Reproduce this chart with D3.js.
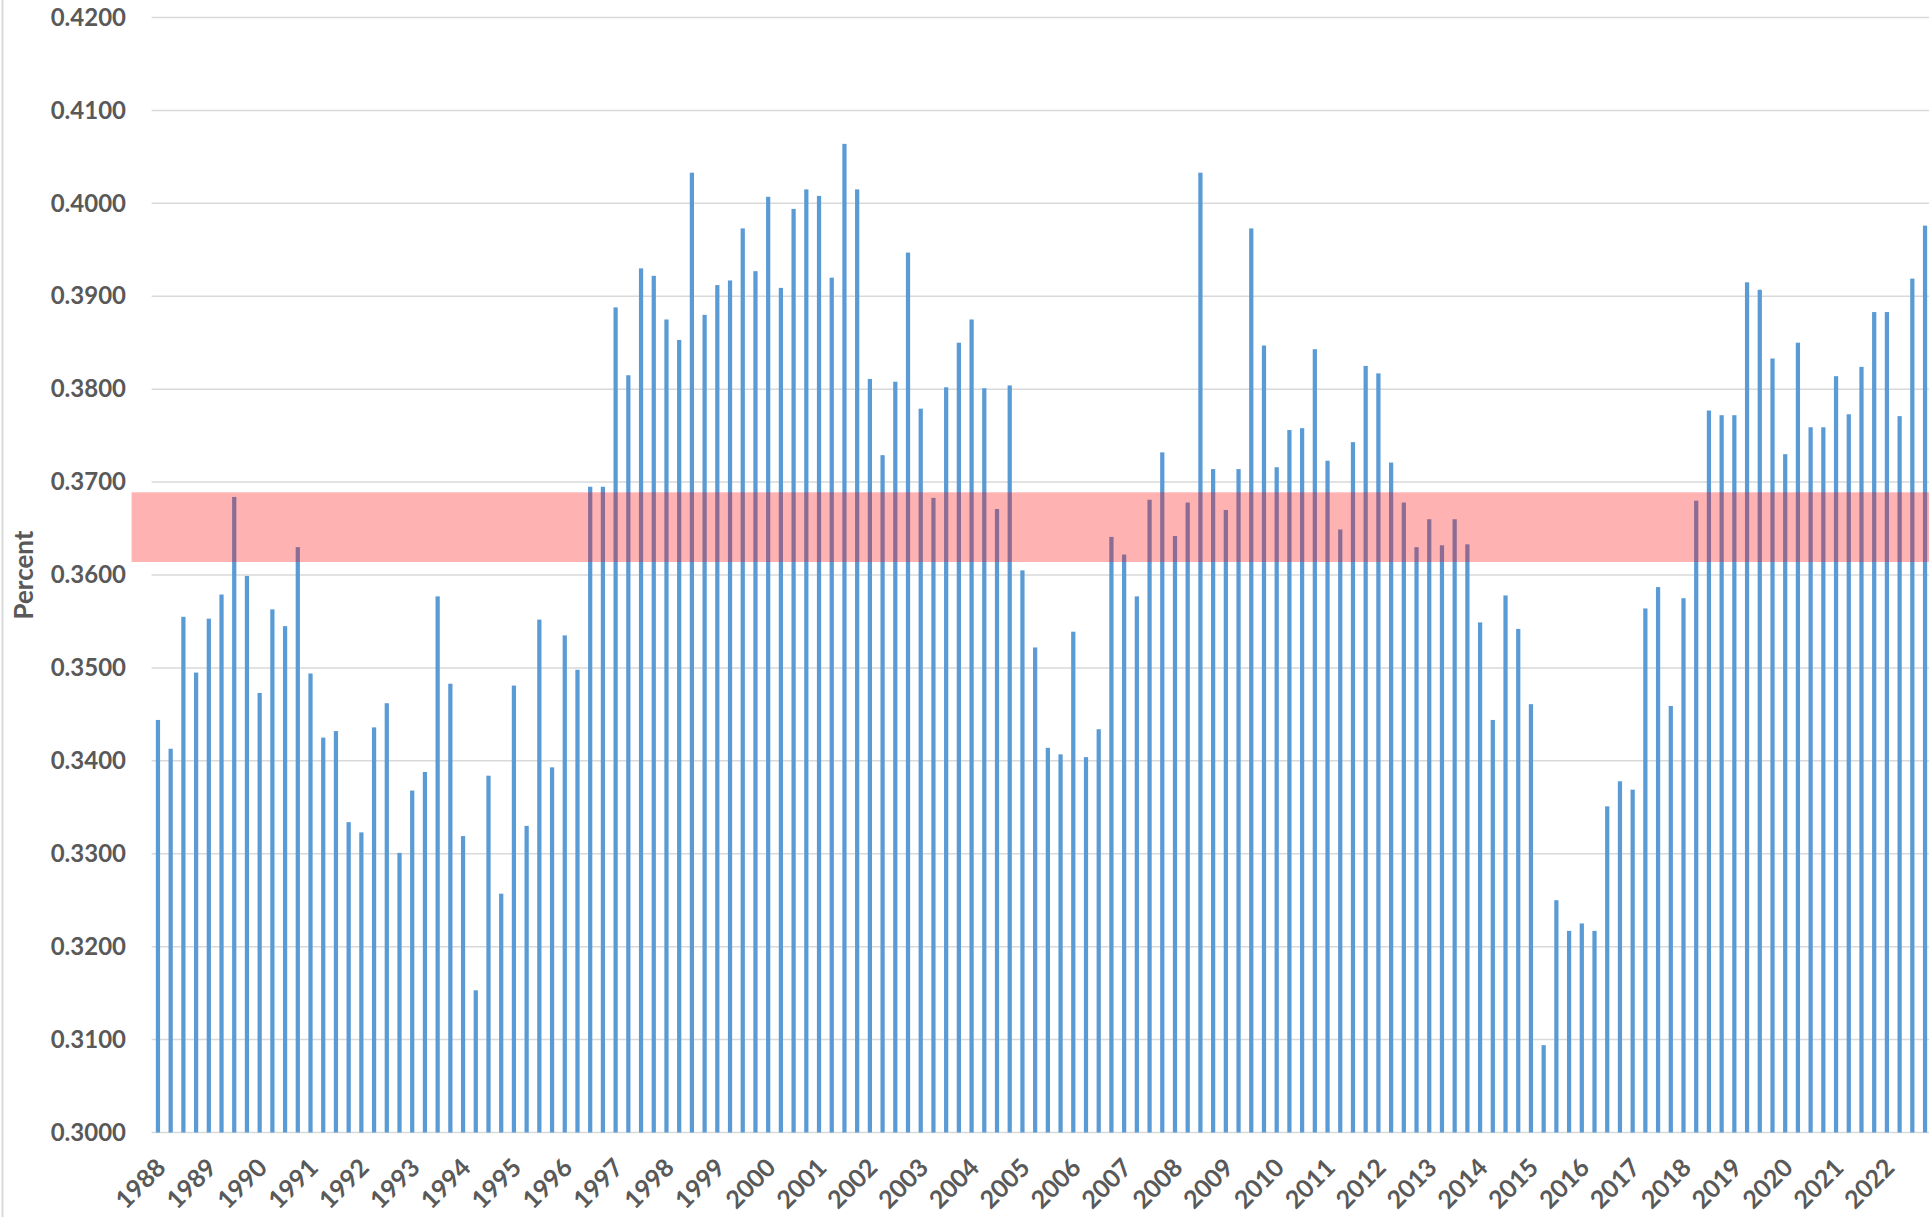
<!DOCTYPE html>
<html>
<head>
<meta charset="utf-8">
<script src="https://cdn.jsdelivr.net/npm/d3@7/dist/d3.min.js"></script>
<style>
  body { margin: 0; background: #fff; }
  svg { display: block; }
</style>
</head>
<body>
<svg id="chart"></svg>
<script>
const W = 1929, H = 1217;

// years on the axis, one label per year (first quarter)
const years = [1988, 1989, 1990, 1991, 1992, 1993, 1994, 1995, 1996, 1997, 1998, 1999,
    2000, 2001, 2002, 2003, 2004, 2005, 2006, 2007, 2008, 2009, 2010, 2011,
    2012, 2013, 2014, 2015, 2016, 2017, 2018, 2019, 2020, 2021, 2022];
const quarters = ["Q1", "Q2", "Q3", "Q4"];

// quarterly values, five years per list
const v1988to1992 = [0.3444, 0.3413, 0.3555, 0.3495, 0.3553, 0.3579, 0.3684, 0.3599, 0.3473, 0.3563,
    0.3545, 0.3630, 0.3494, 0.3425, 0.3432, 0.3334, 0.3323, 0.3436, 0.3462, 0.3301];
const v1993to1997 = [0.3368, 0.3388, 0.3577, 0.3483, 0.3319, 0.3153, 0.3384, 0.3257, 0.3481, 0.3330,
    0.3552, 0.3393, 0.3535, 0.3498, 0.3695, 0.3695, 0.3888, 0.3815, 0.3930, 0.3922];
const v1998to2002 = [0.3875, 0.3853, 0.4033, 0.3880, 0.3912, 0.3917, 0.3973, 0.3927, 0.4007, 0.3909,
    0.3994, 0.4015, 0.4008, 0.3920, 0.4064, 0.4015, 0.3811, 0.3729, 0.3808, 0.3947];
const v2003to2007 = [0.3779, 0.3683, 0.3802, 0.3850, 0.3875, 0.3801, 0.3671, 0.3804, 0.3605, 0.3522,
    0.3414, 0.3407, 0.3539, 0.3404, 0.3434, 0.3641, 0.3622, 0.3577, 0.3681, 0.3732];
const v2008to2012 = [0.3642, 0.3678, 0.4033, 0.3714, 0.3670, 0.3714, 0.3973, 0.3847, 0.3716, 0.3756,
    0.3758, 0.3843, 0.3723, 0.3649, 0.3743, 0.3825, 0.3817, 0.3721, 0.3678, 0.3630];
const v2013to2017 = [0.3660, 0.3632, 0.3660, 0.3633, 0.3549, 0.3444, 0.3578, 0.3542, 0.3461, 0.3094,
    0.3250, 0.3217, 0.3225, 0.3217, 0.3351, 0.3378, 0.3369, 0.3564, 0.3587, 0.3459];
const v2018to2022 = [0.3575, 0.3680, 0.3777, 0.3772, 0.3772, 0.3915, 0.3907, 0.3833, 0.3730, 0.3850,
    0.3759, 0.3759, 0.3814, 0.3773, 0.3824, 0.3883, 0.3883, 0.3771, 0.3919, 0.3976];

// shaded band
const bandLow = 0.3614, bandHigh = 0.3689;

const yTicks = [0.30, 0.31, 0.32, 0.33, 0.34, 0.35, 0.36, 0.37, 0.38, 0.39, 0.40, 0.41, 0.42];

const values = [].concat(v1988to1992, v1993to1997, v1998to2002, v2003to2007,
    v2008to2012, v2013to2017, v2018to2022);
const keys = years.flatMap(yr => quarters.map(q => yr + " " + q));
const data = keys.map((k, i) => ({ key: k, value: values[i] }));

const plotLeft = 151.6, plotRight = 1931.4, plotTop = 17.5, plotBottom = 1132.5;
const textColor = "#595959", gridColor = "#d9d9d9";
const font = "Lato, 'Open Sans', sans-serif";

const svg = d3.select("#chart").attr("width", W).attr("height", H);
svg.append("rect").attr("width", W).attr("height", H).attr("fill", "#fff");

// chart border on the left
svg.append("line")
    .attr("x1", 2.5).attr("x2", 2.5).attr("y1", 0).attr("y2", H)
    .style("stroke", gridColor).style("stroke-width", 2);

const x = d3.scaleBand()
    .domain(keys)
    .range([plotLeft, plotRight])
    .paddingInner(2 / 3)
    .paddingOuter(1 / 3);

const y = d3.scaleLinear()
    .domain([0.30, 0.42])
    .range([plotBottom, plotTop]);

// gridlines
svg.append("g").selectAll("line")
    .data(yTicks)
    .enter().append("line")
    .attr("x1", plotLeft).attr("x2", W)
    .attr("y1", d => y(d)).attr("y2", d => y(d))
    .style("stroke", gridColor)
    .style("stroke-width", 1.5);

// bars
svg.append("g").selectAll("rect")
    .data(data)
    .enter().append("rect")
    .attr("x", d => x(d.key))
    .attr("width", x.bandwidth())
    .attr("y", d => y(d.value))
    .attr("height", d => y(0.30) - y(d.value))
    .style("fill", "#5b9bd5");

// translucent band over the bars
svg.append("rect")
    .attr("x", 131.6)
    .attr("width", W - 131.6)
    .attr("y", y(bandHigh))
    .attr("height", y(bandLow) - y(bandHigh))
    .style("fill", "rgba(255,0,0,0.3)");

// y axis labels
const yAxis = svg.append("g")
    .attr("transform", "translate(126,0)")
    .call(d3.axisLeft(y).tickValues(yTicks).tickFormat(d3.format(".4f")).tickSize(0).tickPadding(0));
yAxis.select(".domain").remove();
yAxis.selectAll("text")
    .style("font-family", font)
    .style("font-size", "24px")
    .style("font-weight", "bold")
    .style("fill", textColor);

// x axis labels, rotated
const xAxis = svg.append("g")
    .attr("transform", "translate(0,1163)")
    .call(d3.axisBottom(x)
        .tickValues(keys.filter(k => k.endsWith("Q1")))
        .tickFormat(k => k.slice(0, 4))
        .tickSize(0));
xAxis.select(".domain").remove();
xAxis.selectAll("text")
    .attr("x", 0).attr("y", 0).attr("dy", "0.35em")
    .attr("text-anchor", "end")
    .attr("transform", "translate(3,0) rotate(-45)")
    .style("font-family", font)
    .style("font-size", "25px")
    .style("font-weight", "bold")
    .style("fill", textColor);

// axis title
svg.append("text")
    .attr("transform", "translate(24,575) rotate(-90)")
    .attr("text-anchor", "middle")
    .attr("dy", "0.35em")
    .style("font-family", font)
    .style("font-size", "26px")
    .style("font-weight", "bold")
    .style("fill", textColor)
    .text("Percent");
</script>
</body>
</html>
